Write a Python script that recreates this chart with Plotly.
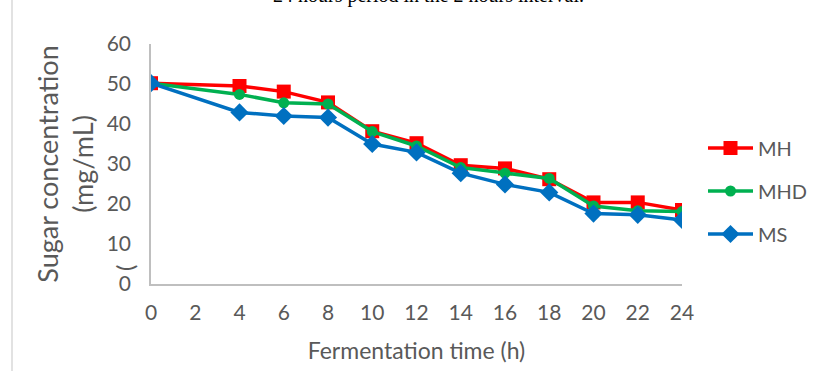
import plotly.graph_objects as go

time_h = [0, 4, 6, 8, 10, 12, 14, 16, 18, 20, 22, 24]
mh = [50.2, 49.5, 48.1, 45.4, 38.2, 35.2, 29.7, 28.9, 26.2, 20.4, 20.4, 18.5]
mhd = [50.2, 47.4, 45.3, 45.0, 38.1, 34.5, 29.1, 27.7, 26.4, 19.5, 18.3, 18.1]
ms = [50.2, 42.9, 42.0, 41.6, 35.0, 32.9, 27.7, 24.9, 22.9, 17.6, 17.3, 16.0]
x_ticks = list(range(0, 25, 2))
y_ticks = list(range(0, 61, 10))

FONT = "Lato"
GREY = "#595959"

fig = go.Figure()
series = [
    ("MH", mh, "#FF0000", "square", 14),
    ("MHD", mhd, "#00B050", "circle", 11),
    ("MS", ms, "#0070C0", "diamond", 14),
]
for name, vals, col, sym, sz in series:
    fig.add_trace(go.Scatter(
        x=time_h, y=vals, name=name, mode="lines+markers", legendgroup=name,
        line=dict(color=col, width=3.5),
        marker=dict(symbol=sym, size=sz, color=col),
    ))

W, H = 828, 371
L, R, T, B = 151, 146, 44, 87
pw = W - L - R
ph = H - T - B

fig.update_layout(
    width=W, height=H,
    margin=dict(l=L, r=R, t=T, b=B, pad=0),
    paper_bgcolor="white", plot_bgcolor="white",
    font=dict(family=FONT, color=GREY, size=20),
    showlegend=True,
    legend=dict(x=(703 - L) / pw, xanchor="left", y=(284 - 191) / ph, yanchor="middle",
                font=dict(size=20, color=GREY), tracegroupgap=14, itemwidth=45,
                traceorder="grouped", bgcolor="rgba(0,0,0,0)"),
    xaxis=dict(range=[0, 24], tickvals=x_ticks, ticktext=[str(v) for v in x_ticks],
               showgrid=False, zeroline=False, showline=True, linecolor="#BFBFBF",
               linewidth=1.5, ticks="", ticklabelstandoff=9,
               tickfont=dict(size=21, color=GREY),
               title=dict(text="Fermentation time (h)", font=dict(size=23, color=GREY),
                          standoff=20)),
    yaxis=dict(range=[0, 60], tickvals=y_ticks, showgrid=False, zeroline=False,
               showline=True, linecolor="#BFBFBF", linewidth=1.5, ticks="",
               ticklabelstandoff=14, tickfont=dict(size=21, color=GREY),
               title=dict(text="Sugar concentration<br>(mg/mL)",
                          font=dict(size=27, color=GREY), standoff=5)),
)

# page border line at the left
fig.add_shape(type="line", xref="paper", yref="paper",
              x0=(12 - L) / pw, x1=(12 - L) / pw, y0=-1, y1=2,
              line=dict(color="#D9D9D9", width=1.5))

# clipped caption from the page above
fig.add_annotation(text="24 hours period in the 2 hours interval.", xref="paper", yref="paper",
                   x=(428 - L) / pw, y=(284 + 5) / ph, xanchor="center", yanchor="middle",
                   showarrow=False, font=dict(family="Liberation Serif", size=20, color="#000000"))

# stray parenthesis in the y-title area
fig.add_annotation(text="(", xref="paper", yref="paper",
                   x=(124 - L) / pw, y=(284 - 268) / ph, xanchor="center", yanchor="middle",
                   textangle=-90, showarrow=False, font=dict(size=24, color=GREY))

fig.write_html("out.html")
